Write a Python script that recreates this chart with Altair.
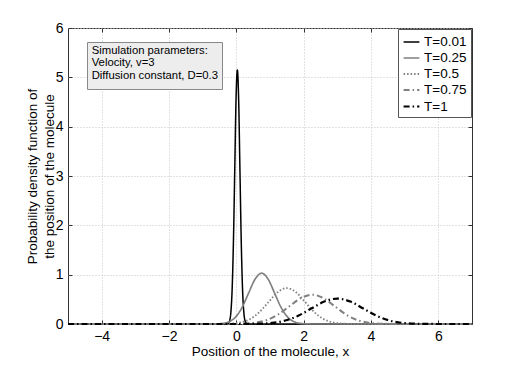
import altair as alt
import pandas as pd

# ---- data ----
series = ["T=0.01", "T=0.25", "T=0.5", "T=0.75", "T=1"]

x_t001 = [-5.0, -0.280, -0.241, -0.202, -0.164, -0.125, -0.086, -0.047, -0.009, 0.030,
          0.069, 0.107, 0.146, 0.185, 0.224, 0.262, 0.301, 0.340, 7.0]
y_t001 = [0.0, 0.0017, 0.0113, 0.057, 0.226, 0.697, 1.672, 3.123, 4.545, 5.15,
          4.545, 3.123, 1.672, 0.697, 0.226, 0.057, 0.0113, 0.0017, 0.0]

x_t025 = [-5.0, -0.799, -0.605, -0.412, -0.218, -0.025, 0.169, 0.363, 0.556, 0.750,
          0.944, 1.137, 1.331, 1.524, 1.718, 1.912, 2.105, 2.299, 7.0]
y_t025 = [0.0, 0.0003, 0.0023, 0.0114, 0.0452, 0.139, 0.334, 0.625, 0.909, 1.030,
          0.909, 0.625, 0.334, 0.139, 0.0452, 0.0114, 0.0023, 0.0003, 0.0]

x_t05 = [-5.0, -0.691, -0.417, -0.143, 0.130, 0.404, 0.678, 0.952, 1.226, 1.500,
         1.774, 2.048, 2.322, 2.596, 2.870, 3.143, 3.417, 3.691, 7.0]
y_t05 = [0.0, 0.0002, 0.0016, 0.0081, 0.0320, 0.0986, 0.2365, 0.4418, 0.6428, 0.7284,
         0.6428, 0.4418, 0.2365, 0.0986, 0.0320, 0.0081, 0.0016, 0.0002, 0.0]

x_t075 = [-5.0, -0.433, -0.098, 0.238, 0.573, 0.908, 1.244, 1.579, 1.915, 2.250,
          2.585, 2.921, 3.256, 3.592, 3.927, 4.262, 4.598, 4.933, 7.0]
y_t075 = [0.0, 0.0002, 0.0013, 0.0066, 0.0261, 0.0805, 0.1931, 0.3607, 0.5248, 0.5947,
          0.5248, 0.3607, 0.1931, 0.0805, 0.0261, 0.0066, 0.0013, 0.0002, 0.0]

x_t1 = [-5.0, -0.098, 0.289, 0.676, 1.063, 1.451, 1.838, 2.225, 2.613, 3.000,
        3.387, 3.775, 4.162, 4.549, 4.937, 5.324, 5.711, 6.098, 7.0]
y_t1 = [0.0, 0.0002, 0.0011, 0.0057, 0.0226, 0.0697, 0.1672, 0.3124, 0.4545, 0.5150,
        0.4545, 0.3124, 0.1672, 0.0697, 0.0226, 0.0057, 0.0011, 0.0002, 0.0]

x_ticks = [-4, -2, 0, 2, 4, 6]
y_ticks = [0, 1, 2, 3, 4, 5, 6]

annotation_lines = ["Simulation parameters:", "Velocity, v=3", "Diffusion constant, D=0.3"]

# ---- build table ----
rows = []
for name, xs, ys in zip(series, [x_t001, x_t025, x_t05, x_t075, x_t1],
                        [y_t001, y_t025, y_t05, y_t075, y_t1]):
    for i, (xv, yv) in enumerate(zip(xs, ys)):
        rows.append({"series": name, "x": xv, "y": yv, "order": i})
df = pd.DataFrame(rows)

FONT = "Liberation Sans"
FS = 13.5

colors = ["#000000", "#808080", "#808080", "#808080", "#000000"]
dashes = [[1, 0], [1, 0], [1.5, 2], [6, 3, 1.5, 3], [6, 3, 1.5, 3]]
widths = [1.5, 2.2, 1.2, 1.5, 2.0]

xscale = alt.Scale(domain=[-5, 7], nice=False)
yscale = alt.Scale(domain=[0, 6], nice=False)

lines = alt.Chart(df).mark_line(interpolate="monotone").encode(
    x=alt.X("x:Q", scale=xscale,
            axis=alt.Axis(values=x_ticks, title="Position of the molecule, x",
                          offset=-4, tickSize=4, labelPadding=5, titlePadding=1)),
    y=alt.Y("y:Q", scale=yscale,
            axis=alt.Axis(values=y_ticks,
                          title=["Probability density function of",
                                 "the position of the molecule"],
                          offset=-4, tickSize=4, labelPadding=5, titlePadding=-1,
                          titleLineHeight=17)),
    color=alt.Color("series:N", scale=alt.Scale(domain=series, range=colors),
                    legend=alt.Legend(title=None)),
    strokeDash=alt.StrokeDash("series:N", scale=alt.Scale(domain=series, range=dashes),
                              legend=alt.Legend(title=None)),
    strokeWidth=alt.StrokeWidth("series:N", scale=alt.Scale(domain=series, range=widths),
                                legend=alt.Legend(title=None)),
    order="order:Q",
)

# second set of axes (top/right) carrying only inward tick marks
frame_ticks = alt.Chart(df).mark_point(opacity=0).encode(
    x=alt.X("x:Q", scale=xscale,
            axis=alt.Axis(orient="top", values=x_ticks, labels=False, title=None,
                          grid=False, offset=-4, tickSize=4)),
    y=alt.Y("y:Q", scale=yscale,
            axis=alt.Axis(orient="right", values=y_ticks, labels=False, title=None,
                          grid=False, offset=-4, tickSize=4)),
)

box = alt.Chart(pd.DataFrame({"a": [0]})).mark_rect(
    fill="#ededed", stroke="#888888", strokeWidth=1
).encode(x=alt.value(19.5), x2=alt.value(154.5), y=alt.value(14.5), y2=alt.value(61.5))

ann = pd.DataFrame({"t": annotation_lines, "i": [0, 1, 2]})
txt = alt.Chart(ann).mark_text(
    align="left", baseline="middle", font=FONT, fontSize=11.3, color="#000000"
).encode(
    x=alt.value(23.7),
    y=alt.Y("i:Q", scale=alt.Scale(domain=[0, 6], range=[22.7, 22.7 + 6 * 12.7]), axis=None),
    text="t:N",
)

chart = alt.layer(lines, frame_ticks, box, txt).resolve_scale(
    x="independent", y="independent"
).properties(
    width=404, height=296,
    autosize=alt.AutoSizeParams(type="none"),
    padding={"left": 60, "top": 20, "right": 40, "bottom": 40},
    background="white",
).configure_view(stroke="#333333", strokeWidth=1).configure_axis(
    labelFont=FONT, titleFont=FONT, labelFontSize=14, titleFontSize=FS,
    titleFontWeight="normal", labelColor="#000000", titleColor="#000000",
    grid=True, gridColor="#c4c4c4", gridDash=[1, 2], gridWidth=1,
    tickColor="#333333", domain=False,
).configure_legend(
    orient="top-right", offset=1, fillColor="white", strokeColor="#555555",
    padding=4, labelFont=FONT, labelFontSize=FS, labelColor="#000000",
    symbolType="stroke", symbolSize=250, rowPadding=0, labelOffset=3,
)

chart.save("out.html", embed_options={"renderer": "svg", "actions": False})
